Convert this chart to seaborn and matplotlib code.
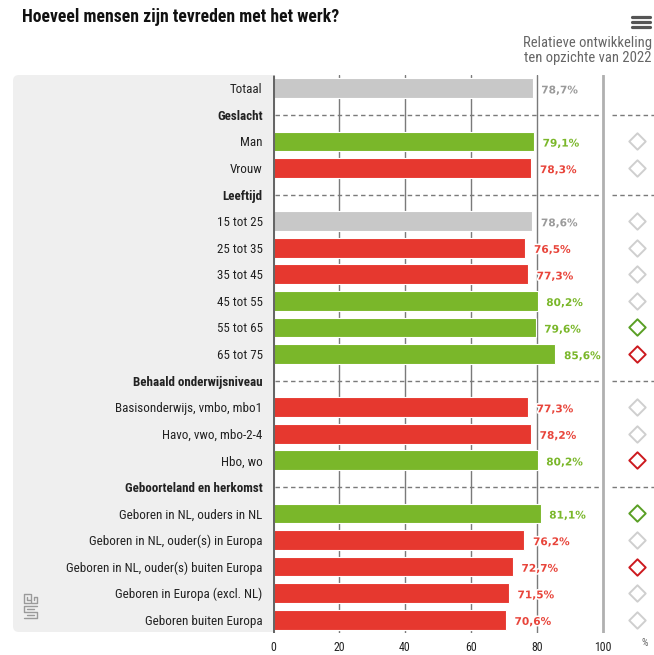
import matplotlib
matplotlib.use("Agg")
import matplotlib.pyplot as plt
import seaborn as sns
import pandas as pd
from matplotlib.patches import FancyBboxPatch
from matplotlib.lines import Line2D
import matplotlib.patheffects as pe
from matplotlib import font_manager

# ---------------- data ----------------
categories = ["Totaal", "Geslacht", "Man", "Vrouw", "Leeftijd", "15 tot 25", "25 tot 35",
              "35 tot 45", "45 tot 55", "55 tot 65", "65 tot 75", "Behaald onderwijsniveau",
              "Basisonderwijs, vmbo, mbo1", "Havo, vwo, mbo-2-4", "Hbo, wo",
              "Geboorteland en herkomst", "Geboren in NL, ouders in NL",
              "Geboren in NL, ouder(s) in Europa", "Geboren in NL, ouder(s) buiten Europa",
              "Geboren in Europa (excl. NL)", "Geboren buiten Europa"]
headers = ["Geslacht", "Leeftijd", "Behaald onderwijsniveau", "Geboorteland en herkomst"]
bar_labels = [c for c in categories if c not in headers]
values = [78.7, 79.1, 78.3, 78.6, 76.5, 77.3, 80.2, 79.6, 85.6, 77.3, 78.2, 80.2,
          81.1, 76.2, 72.7, 71.5, 70.6]
bar_status = ["neutraal", "hoger", "lager", "neutraal", "lager", "lager", "hoger", "hoger",
              "hoger", "lager", "lager", "hoger", "hoger", "lager", "lager", "lager", "lager"]
trend = [None, "neutraal", "neutraal", "neutraal", "neutraal", "neutraal", "neutraal",
         "hoger", "lager", "neutraal", "neutraal", "lager", "hoger", "neutraal", "lager",
         "neutraal", "neutraal"]
x_ticks = [0, 20, 40, 60, 80, 100]
title = "Hoeveel mensen zijn tevreden met het werk?"
subtitle = ["Relatieve ontwikkeling", "ten opzichte van 2022"]

bar_colors = {"neutraal": "#c8c8c8", "hoger": "#7ab72a", "lager": "#e6382f"}
text_colors = {"neutraal": "#9a9a9a", "hoger": "#7ab72a", "lager": "#e8453b"}
diamond_colors = {"neutraal": "#cfcfcf", "hoger": "#5a9f25", "lager": "#cc1a1f"}

df = pd.DataFrame({"label": bar_labels, "value": values, "status": bar_status})

# ---------------- fonts ----------------
names = {f.name for f in font_manager.fontManager.ttflist}
narrow = "Roboto"
for cand in ["Roboto Condensed", "Liberation Sans Narrow", "Fira Sans Condensed"]:
    if cand in names:
        narrow = cand
        break

W, H = 654, 655
def fx(px):
    return px / W
def fy(py):
    return 1 - py / H

sns.set_theme(style="white")
plt.rcParams["font.family"] = [narrow, "DejaVu Sans"]

fig = plt.figure(figsize=(W / 100, H / 100), dpi=100)
fig.patch.set_facecolor("white")

# left label panel
panel = FancyBboxPatch((fx(13), fy(632)), fx(300) - fx(13), fy(75) - fy(632),
                       boxstyle="round,pad=0,rounding_size=0.009",
                       transform=fig.transFigure, facecolor="#efefef",
                       edgecolor="none", zorder=-5)
fig.add_artist(panel)

ax = fig.add_axes([fx(273), fy(633), fx(654) - fx(273), fy(75) - fy(633)])
ax.set_facecolor("white")
ax.set_zorder(1)

n = len(categories)
xmax = (654 - 273) / 3.3

# gridlines
for xv in [20, 40, 60, 80]:
    ax.plot([xv, xv], [-0.5, n - 0.5], color="#7a7a7a", lw=1.0, zorder=1)
ax.plot([100, 100], [-0.5, n - 0.5], color="#b0b0b0", lw=2.0, zorder=1)

sns.barplot(data=df, x="value", y="label", hue="status", order=categories,
            palette=bar_colors, saturation=1, dodge=False, width=0.74, legend=False,
            edgecolor="white", linewidth=0.8, ax=ax, zorder=3)

ax.plot([0, 0], [-0.5, n - 0.5], color="#666666", lw=2.2, zorder=5, solid_capstyle="butt")

# header dashed lines
for h in headers:
    i = categories.index(h)
    ax.plot([0.5, 99.2], [i, i], ls=(0, (3.2, 2.4)), color="#7a7a7a", lw=1.0, zorder=2)
    ax.plot([102.7, xmax], [i, i], ls=(0, (3.2, 2.4)), color="#7a7a7a", lw=1.0, zorder=2)

# value labels
for lab, v, s in zip(bar_labels, values, bar_status):
    i = categories.index(lab)
    ax.text(v + 2.6, i + 0.08, f"{v:.1f}%".replace(".", ","), ha="left", va="center",
            fontsize=7.6, fontweight="bold", color=text_colors[s],
            family="DejaVu Sans",
            path_effects=[pe.withStroke(linewidth=2.2, foreground="white")], zorder=6)

# trend diamonds
for lab, t in zip(bar_labels, trend):
    if t is None:
        continue
    i = categories.index(lab)
    ax.scatter([110.3], [i], marker="D", s=70, facecolors="white",
               edgecolors=diamond_colors[t], linewidths=1.4, zorder=6)

ax.set_xlim(0, xmax)
ax.set_ylim(n - 0.5, -0.5)
ax.set_xticks(x_ticks)
ax.set_xticklabels([str(t) for t in x_ticks], fontsize=8.6, color="#222222")
ax.tick_params(axis="x", length=0, pad=6)
ax.tick_params(axis="y", length=0, pad=7.5)
ax.set_yticks(range(n))
ax.set_yticklabels(categories, fontsize=9.4, color="#222222")
for tl in ax.get_yticklabels():
    if tl.get_text() in headers:
        tl.set_fontweight("bold")
ax.set_xlabel("")
ax.set_ylabel("")
for sp in ax.spines.values():
    sp.set_visible(False)

# percent unit
fig.text(fx(645), fy(643), "%", fontsize=7.5, color="#666666", ha="center", va="center")

# title and subtitle
fig.text(fx(22), fy(17), title, fontsize=12.7, fontweight="bold", color="#111111",
         ha="left", va="center")
fig.text(fx(652), fy(43), subtitle[0], fontsize=10.5, color="#666666", ha="right", va="center")
fig.text(fx(652), fy(58), subtitle[1], fontsize=10.5, color="#666666", ha="right", va="center")

# hamburger icon
for yy in [17, 22, 27]:
    fig.add_artist(Line2D([fx(632), fx(650)], [fy(yy), fy(yy)], color="#555555",
                          lw=2.3, transform=fig.transFigure, solid_capstyle="round"))

# cbs logo (simplified)
logo = [
    [(30, 594), (24, 594), (24, 603), (30, 603)],
    [(27, 597), (27, 600), (30, 600)],
    [(31, 594), (31, 603), (37, 603), (37, 597), (34, 597), (34, 600)],
    [(37, 606), (24, 606), (24, 612), (37, 612), (37, 618), (24, 618)],
    [(34, 609), (27, 609)],
    [(27, 615), (34, 615)],
]
for path in logo:
    xs = [fx(p[0]) for p in path]
    ys = [fy(p[1]) for p in path]
    fig.add_artist(Line2D(xs, ys, color="#9a9a9a", lw=1.0, transform=fig.transFigure))

fig.savefig("out.png", dpi=100, facecolor="white")
